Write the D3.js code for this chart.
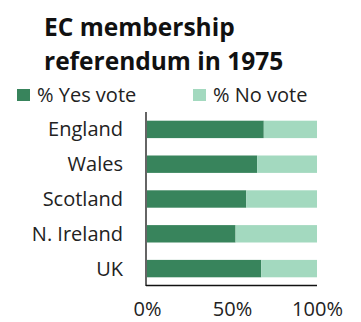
<!DOCTYPE html>
<html><head><meta charset="utf-8">
<script src="https://cdn.jsdelivr.net/npm/d3@7"></script>
<style>body{margin:0;background:#fff}svg{display:block;font-family:"Open Sans",sans-serif}</style>
</head><body><svg id="c" width="361" height="322"></svg>
<script>
const categories = ["England","Wales","Scotland","N. Ireland","UK"];
const yesVote = [68.7, 64.8, 58.4, 52.1, 67.2];
const noVote = [31.3, 35.2, 41.6, 47.9, 32.8];
const seriesNames = ["% Yes vote","% No vote"];
const colors = ["#38845c","#a3d9bf"];
const tickValues = [0, 50, 100];

const svg = d3.select("#c");
const x = d3.scaleLinear().domain([0,100]).range([147,317]);
const y = d3.scaleBand().domain(categories).range([112,286]).paddingInner(0.5).paddingOuter(0.25);

// title
svg.append("text").attr("x",44).attr("y",36).attr("font-size",24.5).attr("font-weight","bold").attr("fill","#111").text("EC membership");
svg.append("text").attr("x",44).attr("y",70).attr("font-size",24.5).attr("font-weight","bold").attr("fill","#111").text("referendum in 1975");

// legend
const legX = [17,193];
seriesNames.forEach((n,i)=>{
  svg.append("rect").attr("x",legX[i]).attr("y",89).attr("width",13).attr("height",12).attr("fill",colors[i]);
  svg.append("text").attr("x",legX[i]+20).attr("y",101.5).attr("font-size",20).attr("fill","#222").text(n);
});

const data = categories.map((c,i)=>({c, yes:yesVote[i], no:noVote[i]}));
const stack = d3.stack().keys(["yes","no"])(data);
svg.append("g").selectAll("g").data(stack).join("g").attr("fill",(d,i)=>colors[i])
  .selectAll("rect").data(d=>d).join("rect")
  .attr("x",d=>x(d[0])).attr("width",d=>x(d[1])-x(d[0]))
  .attr("y",d=>y(d.data.c)).attr("height",y.bandwidth());

// y axis
const ya = svg.append("g").attr("transform","translate(146,0)").call(d3.axisLeft(y).tickSize(0).tickPadding(23));
ya.select(".domain").attr("stroke","#111").attr("stroke-width",1.3).attr("d","M0,112V286");
ya.selectAll("text").attr("font-size",20).attr("fill","#222").attr("font-family","Open Sans").attr("dy","0.35em");

// x axis
const xa = svg.append("g").attr("transform","translate(0,285.5)").call(d3.axisBottom(x).tickValues(tickValues).tickSize(0).tickPadding(16).tickFormat(d=>d+"%"));
xa.select(".domain").attr("stroke","#111").attr("stroke-width",1.3).attr("d","M146,0H317");
xa.selectAll("text").attr("font-size",20).attr("fill","#222").attr("font-family","Open Sans");
</script></body></html>
